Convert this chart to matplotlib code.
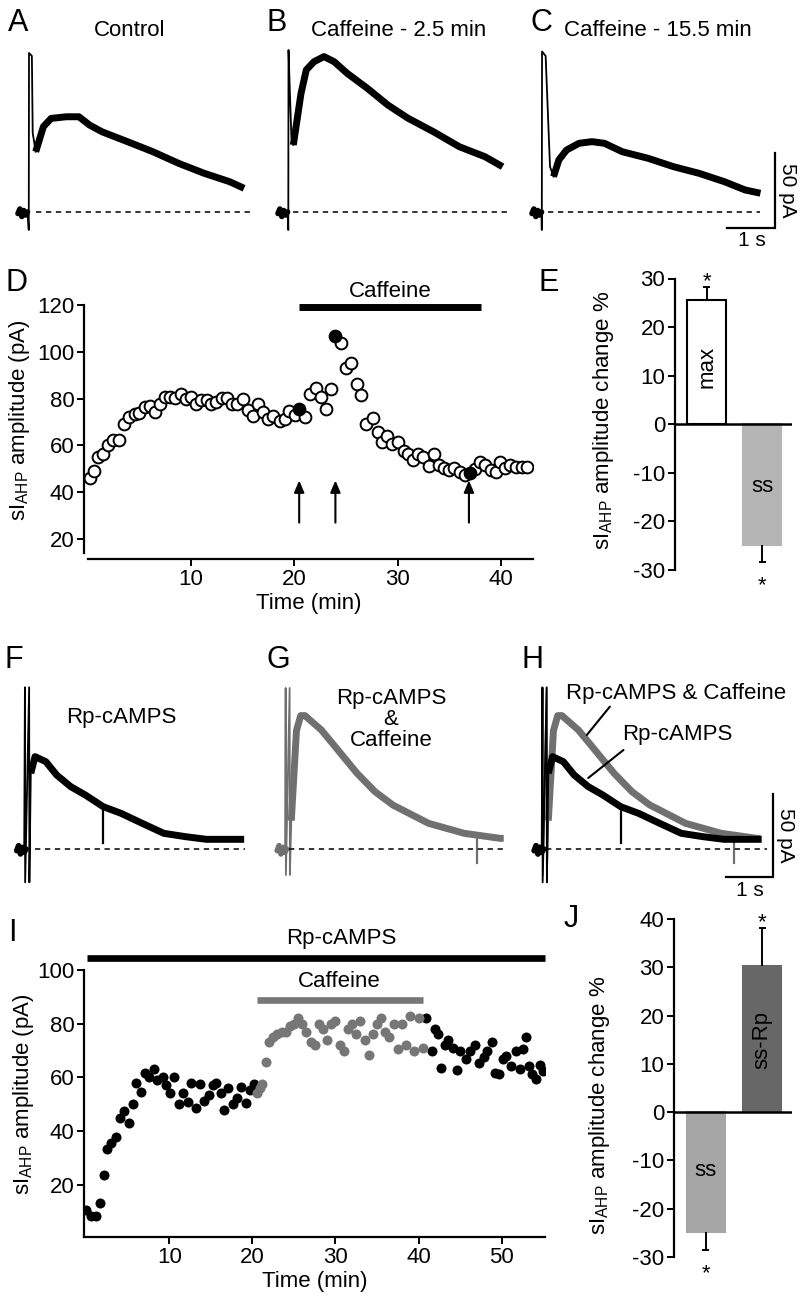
import matplotlib
matplotlib.use('Agg')
import matplotlib.pyplot as plt

plt.rcParams['font.family'] = ['Liberation Sans', 'DejaVu Sans']
plt.rcParams['mathtext.default'] = 'regular'
plt.rcParams['axes.unicode_minus'] = False

# ---------------- data ----------------
# current traces: time (s) from the spike, current (pA) above baseline
pre_t = [-0.23, -0.19, -0.15, -0.11, -0.07, -0.03]
pre_pa = [-1, 2, -3, 1, -2, 0]

A_spike_t = [-0.03, -0.005, 0.0, 0.06, 0.077, 0.14]
A_spike_pa = [0, -12, 106, 104, 52.7, 40.2]
A_t = [0.14, 0.3, 0.46, 0.78, 1.04, 1.26, 1.52, 2.05, 2.58, 3.12, 3.65, 4.18, 4.48]
A_pa = [40.2, 56.9, 62.4, 63.5, 63.5, 58, 53.5, 46.9, 40.2, 32.4, 25.8, 20.2, 15.8]

B_spike_t = [-0.03, -0.015, -0.01, 0.02, 0.05, 0.09]
B_spike_pa = [0, -12, 108, 78, 50, 44.7]
B_t = [0.09, 0.25, 0.36, 0.52, 0.73, 0.94, 1.21, 1.63, 2.06, 2.48, 3.01, 3.55, 4.08, 4.45]
B_pa = [44.7, 79, 94.7, 100.2, 103.6, 100.2, 92.5, 82.5, 71.3, 62.5, 53.5, 43.5, 36.9, 30.2]

C_spike_t = [-0.03, -0.025, -0.02, 0.055, 0.146, 0.22]
C_spike_pa = [0, -12, 107, 104, 30.2, 23.6]
C_t = [0.22, 0.33, 0.49, 0.75, 1.02, 1.28, 1.65, 2.19, 2.72, 3.25, 3.78, 4.21, 4.53]
C_pa = [23.6, 34.7, 41.3, 45.8, 46.9, 45.8, 40.2, 35.8, 30.2, 25.8, 20.2, 14.7, 12.5]

# Rp-cAMPS (black) and Rp-cAMPS & Caffeine (gray)
F_spike_t = [-0.07, -0.055, -0.05, 0.035, 0.04, 0.07]
F_spike_pa = [0, 97, -20, 97, -20, 45.4]
F_t = [0.07, 0.16, 0.39, 0.62, 0.92, 1.23, 1.61, 1.99, 2.44, 2.9, 3.36, 3.81, 4.27, 4.61]
F_pa = [45.4, 55.4, 52.4, 44.4, 37.4, 32.4, 25.4, 21.4, 15.4, 9.4, 7.4, 5.8, 5.8, 5.8]
F_art_t = [1.61, 1.61]
F_art_pa = [25.4, 3.4]

G_spike_t = [-0.06, -0.05, -0.045, 0.035, 0.04, 0.07]
G_spike_pa = [0, 96.6, -15.6, 96.6, -15.6, 17]
G_t = [0.07, 0.18, 0.27, 0.36, 0.71, 1.09, 1.47, 1.85, 2.23, 2.99, 3.75, 4.51, 4.59]
G_pa = [17, 71, 80, 80, 71.4, 58.4, 45.4, 34.4, 26.4, 15.4, 9.4, 6.4, 6.4]
G_art_t = [4.02, 4.02]
G_art_pa = [8.5, -8.6]

# panel D: sIAHP amplitude (pA) vs time (min)
D_time = [0.3, 0.7, 1.09, 1.51, 2.06, 2.55, 3.12, 3.58, 4.09, 4.64, 5.06, 5.6, 6.09,
          6.57, 7.05, 7.54, 8.02, 8.5, 9.05, 9.57, 10.0, 10.5, 11.0, 11.6, 12.0, 12.5,
          13.0, 13.5, 14.0, 14.5, 15.1, 15.6, 16.0, 16.55, 17.0, 17.5, 18.0, 18.6, 19.1,
          19.55, 20.1, 21.1, 21.5, 22.1, 22.6, 23.1, 23.6, 24.5, 25.0, 25.5, 26.05,
          26.5, 27.0, 27.6, 28.1, 28.5, 29.0, 29.5, 30.0, 30.6, 31.0, 31.5, 32.0, 32.5,
          33.0, 33.5, 34.0, 34.5, 35.0, 35.5, 36.0, 36.5, 37.5, 38.0, 38.5, 39.0, 39.5,
          39.9, 40.4, 40.9, 41.4, 42.0, 42.5]
D_amp = [46, 49, 54.9, 56.2, 60.2, 62.3, 62.3, 69.1, 72.0, 73.4, 74.0, 76.5, 76.8,
         74.4, 77.7, 80.5, 80.5, 80.1, 82.0, 79.8, 80.8, 77.7, 79.4, 79.4, 77.6, 78.7,
         80.1, 80.1, 77.6, 77.6, 79.7, 75.1, 72.7, 77.6, 74.4, 71.2, 72.6, 70.4, 71.2,
         74.7, 73.0, 72.0, 82.0, 84.4, 80.8, 75.4, 84.0, 103.6, 93.2, 95.1, 86.1,
         81.5, 69.1, 71.6, 65.9, 61.6, 64.0, 60.6, 61.6, 57.7, 56.2, 53.8, 56.3, 55.2,
         51.0, 56.3, 51.6, 50.5, 49.5, 50.5, 48.5, 47.5, 50.0, 53.0, 51.6, 49.5, 48.5,
         53.0, 50.5, 51.6, 50.8, 50.8, 50.8]
D_sel_time = [20.5, 24.0, 37.0]
D_sel_amp = [75.4, 106.8, 48.0]
D_arrows = [20.5, 24.0, 36.9]
D_caffeine = (20.5, 38.1)

# panel I
I_black_t = [0.0, 0.55, 1.1, 1.63, 2.14, 2.5, 3.0, 3.56, 4.0, 4.55, 5.07, 5.6, 6.0, 6.6,
             7.0, 7.56, 8.17, 8.5, 9.16, 9.6, 10.1, 10.6, 11.1, 11.6, 12.2, 12.6, 13.2,
             13.7, 14.1, 14.7, 15.2, 15.6, 16.2, 16.6, 17.1, 17.6, 18.1, 18.6, 19.2,
             19.7, 20.2, 40.9, 41.6, 42.0, 42.4, 42.7, 43.2, 43.6, 44.1, 44.6, 45.0,
             45.7, 46.2, 46.8, 47.3, 47.9, 48.3, 48.8, 49.2, 49.7, 50.2, 50.6, 51.2,
             51.7, 52.2, 52.6, 53.0, 53.3, 53.7, 54.1, 54.6, 55.0]
I_black_v = [10.7, 8.5, 8.5, 13.4, 23.7, 33.3, 35.5, 37.7, 44.8, 47.5, 43.2, 50.0, 58.0,
             54.7, 61.7, 60.3, 63.0, 59.0, 60.3, 57.2, 54.1, 60.3, 50.1, 54.1, 51.0, 58.0,
             48.5, 57.5, 51.3, 53.5, 57.2, 58.0, 54.1, 47.9, 55.9, 50.3, 52.2, 56.3, 50.4,
             55.5, 57.5, 82, 70, 78, 76, 63.6, 72, 74, 71, 62.7, 70,
             67, 70, 72, 65.5, 67.6, 70, 73, 61.8, 61.3, 66.7, 68, 64.3,
             70, 63.3, 70.5, 75, 64.3, 61.3, 59.4, 64.8, 62.3]
I_gray_t = [20.55, 20.9, 21.2, 21.6, 22.0, 22.5, 23.0, 23.5, 24.0, 24.5, 25.0, 25.5,
            26.0, 26.5, 27.0, 27.5, 28.0, 28.5, 29.0, 29.5, 30.0, 30.5, 31.0, 31.5,
            32.0, 32.5, 33.0, 33.5, 34.0, 34.5, 35.0, 35.5, 36.0, 36.5, 37.0, 37.5,
            38.0, 38.5, 39.0, 39.5, 40.0, 40.5]
I_gray_v = [54.3, 56, 57.4, 65.8, 73, 75, 76, 77, 77, 79, 80, 82,
            80, 77, 73, 72, 80, 78, 74, 80, 81, 72, 70, 78,
            80, 76, 81, 74, 68.4, 76, 80, 82, 77, 75, 80, 70.5,
            80, 72, 83, 70, 82, 71]
I_rp = (0.1, 55.3)
I_caffeine = (20.5, 40.6)

# bar panels (% change)
E_labels = ['max', 'ss']
E_values = [25.6, -24.8]
E_errors = [2.7, 3.6]
J_labels = ['ss', 'ss-Rp']
J_values = [-24.8, 30.2]
J_errors = [3.7, 8.0]

# ---------------- layout helpers ----------------
W, H = 800, 1308
fig = plt.figure(figsize=(8, 13.08), dpi=100)


def axes_px(l, t, r, b):
    return fig.add_axes([l / W, 1 - b / H, (r - l) / W, (b - t) / H])


def ftext(x, y, s, **kw):
    fig.text(x / W, 1 - y / H, s, **kw)


def trace_axes(l, r, t, b, spike, base, px_s, px_pa):
    ax = axes_px(l, t, r, b)
    ax.set_xlim((l - spike) / px_s, (r - spike) / px_s)
    ax.set_ylim((base - b) / px_pa, (base - t) / px_pa)
    ax.axis('off')
    return ax


def draw_trace(ax, st, sp, t, pa, color, thick=5.0):
    ax.plot(pre_t, pre_pa, color=color, lw=thick * 0.8, solid_capstyle='round')
    ax.plot(st, sp, color=color, lw=1.3)
    ax.plot(t, pa, color=color, lw=thick, solid_capstyle='butt',
            solid_joinstyle='round')


def baseline(ax, t0, t1):
    ax.hlines(0, t0, t1, colors='k', linestyles=(0, (3.5, 3)), lw=1.1)


def scale_bar(ax, x0, y0):
    ax.plot([x0 - 1, x0, x0], [y0, y0, y0 + 50], color='k', lw=1.6,
            clip_on=False, solid_joinstyle='miter')


GRAY_T = '#707070'
lab = dict(fontsize=16)
big = dict(fontsize=22)
ylab = r'sI$_{AHP}$'

# ---------------- A, B, C ----------------
axA = trace_axes(5, 255, 40, 240, 29, 212, 48, 1.5)
draw_trace(axA, A_spike_t, A_spike_pa, A_t, A_pa, 'k')
baseline(axA, 0.14, 4.6)
axB = trace_axes(265, 515, 40, 240, 289, 212, 48, 1.5)
draw_trace(axB, B_spike_t, B_spike_pa, B_t, B_pa, 'k')
baseline(axB, 0.08, 4.58)
axC = trace_axes(525, 795, 40, 240, 543, 212, 48, 1.5)
draw_trace(axC, C_spike_t, C_spike_pa, C_t, C_pa, 'k')
baseline(axC, 0.1, 4.52)
scale_bar(axC, 4.83, -10.7)
axC.text(5.1, 14.7, '50 pA', rotation=270, ha='center', va='center', fontsize=15)
axC.text(4.35, -18.7, '1 s', ha='center', va='center', fontsize=15)

ftext(18, 23, 'A', ha='center', va='center', **big)
ftext(277, 23, 'B', ha='center', va='center', **big)
ftext(541, 23, 'C', ha='center', va='center', **big)
ftext(130, 30, 'Control', ha='center', va='center', **lab)
ftext(399, 30, 'Caffeine - 2.5 min', ha='center', va='center', **lab)
ftext(658, 30, 'Caffeine - 15.5 min', ha='center', va='center', **lab)

# ---------------- D ----------------
axD = axes_px(84, 282, 533, 559)
axD.set_xlim(-0.29, 43.09)
axD.set_ylim(11.45, 129.8)
axD.scatter(D_time, D_amp, s=72, facecolor='white', edgecolor='k', lw=1.4, zorder=3)
axD.scatter(D_sel_time, D_sel_amp, s=72, facecolor='k', edgecolor='k', lw=1.4, zorder=4)
for t in D_arrows:
    axD.annotate('', xy=(t, 45), xytext=(t, 27),
                 arrowprops=dict(arrowstyle='-|>,head_width=0.3,head_length=0.7',
                                 color='k', lw=1.5, shrinkA=0, shrinkB=0))
axD.plot(D_caffeine, [119, 119], color='k', lw=5, solid_capstyle='butt', clip_on=False)
axD.text(sum(D_caffeine) / 2, 125.6, 'Caffeine', ha='center', va='center', **lab)
axD.set_yticks([20, 40, 60, 80, 100, 120])
axD.set_xticks([10, 20, 30, 40])
axD.spines['left'].set_bounds(14, 120)
axD.spines['bottom'].set_bounds(0.1, 43.09)
axD.set_xlabel('Time (min)', fontsize=16, labelpad=2)

# ---------------- E ----------------
def bar_panel(ax, labels, values, errors, colors, edges, rot, lblpos):
    xs = [0.81, 2.24]
    ax.set_xlim(0, 3)
    ax.bar(xs, values, width=0.98, color=colors, edgecolor=edges, lw=1.5, zorder=2)
    ax.axhline(0, color='k', lw=1.8, zorder=3)
    for x, v, e, l, r, lp in zip(xs, values, errors, labels, rot, lblpos):
        sgn = 1 if v > 0 else -1
        end = v + sgn * e
        ax.vlines(x, v, end, color='k', lw=1.4)
        ax.hlines(end, x - 0.09, x + 0.09, color='k', lw=1.4)
        ax.annotate('*', xy=(x, end), xytext=(0, 0 if sgn > 0 else -21),
                    textcoords='offset points', ha='center', va='baseline',
                    fontsize=16, annotation_clip=False)
        ax.text(x, lp, l, rotation=r, ha='center', va='center', fontsize=16, zorder=4)
    ax.set_xticks([])
    ax.spines['bottom'].set_visible(False)


axE = axes_px(675, 278.5, 792, 570)
axE.set_ylim(-30, 30)
bar_panel(axE, E_labels, E_values, E_errors, ['white', '#b4b4b4'], ['k', '#b4b4b4'],
          [90, 0], [11.8, -12.8])
axE.set_yticks(range(-30, 31, 10))

# ---------------- F, G, H ----------------
axF = trace_axes(5, 255, 675, 890, 27.5, 849, 47, 1.667)
draw_trace(axF, F_spike_t, F_spike_pa, F_t, F_pa, 'k')
axF.plot(F_art_t, F_art_pa, color='k', lw=1.6)
baseline(axF, 0.15, 4.62)
axF.text(2.0, 78.6, 'Rp-cAMPS', ha='center', va='center', **lab)

axG = trace_axes(265, 515, 675, 890, 288, 849, 47, 1.667)
draw_trace(axG, G_spike_t, G_spike_pa, G_t, G_pa, GRAY_T)
axG.plot(G_art_t, G_art_pa, color=GRAY_T, lw=1.6)
baseline(axG, 0.02, 4.6)
axG.text(2.19, 77.4, 'Rp-cAMPS\n&\nCaffeine', ha='center', va='center',
         linespacing=1.0, **lab)

axH = trace_axes(525, 795, 675, 890, 545, 849, 47, 1.667)
draw_trace(axH, G_spike_t, G_spike_pa, G_t, G_pa, GRAY_T)
axH.plot(G_art_t, G_art_pa, color=GRAY_T, lw=1.6)
draw_trace(axH, F_spike_t, F_spike_pa, F_t, F_pa, 'k')
axH.plot(F_art_t, F_art_pa, color='k', lw=1.6)
baseline(axH, 0.02, 4.72)
scale_bar(axH, 4.85, -16.8)
axH.text(5.11, 8.4, '50 pA', rotation=270, ha='center', va='center', fontsize=15)
axH.text(4.35, -24.6, '1 s', ha='center', va='center', fontsize=15)
axH.text(2.79, 93.4, 'Rp-cAMPS & Caffeine', ha='center', va='center', **lab)
axH.text(2.81, 68.4, 'Rp-cAMPS', ha='center', va='center', **lab)
axH.annotate('', xy=(0.89, 68.4), xytext=(1.38, 85.4),
             arrowprops=dict(arrowstyle='-', lw=1.5, shrinkA=0, shrinkB=0))
axH.annotate('', xy=(0.92, 42.6), xytext=(1.67, 59.4),
             arrowprops=dict(arrowstyle='-', lw=1.5, shrinkA=0, shrinkB=0))

ftext(14, 660, 'F', ha='center', va='center', **big)
ftext(278, 660, 'G', ha='center', va='center', **big)
ftext(532, 660, 'H', ha='center', va='center', **big)

# ---------------- I ----------------
axI = axes_px(84, 940, 545, 1237)
axI.set_xlim(-0.3, 55.24)
axI.set_ylim(0.67, 111.1)
axI.scatter(I_black_t, I_black_v, s=52, color='k', lw=0, zorder=3)
axI.scatter(I_gray_t, I_gray_v, s=52, color='#767676', lw=0, zorder=3)
axI.plot(I_rp, [104.3, 104.3], color='k', lw=4.8, solid_capstyle='butt', clip_on=False)
axI.plot(I_caffeine, [88.8, 88.8], color='#777777', lw=4.8, solid_capstyle='butt',
         clip_on=False)
axI.text(30.7, 111.7, 'Rp-cAMPS', ha='center', va='center', **lab)
axI.text(30.5, 95.6, 'Caffeine', ha='center', va='center', **lab)
axI.set_yticks([20, 40, 60, 80, 100])
axI.set_xticks([10, 20, 30, 40, 50])
axI.spines['left'].set_bounds(0.67, 100)
axI.set_xlabel('Time (min)', fontsize=16, labelpad=2)

# ---------------- J ----------------
axJ = axes_px(674, 919, 792, 1257)
axJ.set_ylim(-30, 40)
bar_panel(axJ, J_labels, J_values, J_errors, ['#a6a6a6', '#676767'],
          ['#a6a6a6', '#676767'], [0, 90], [-12, 15])
axJ.set_yticks(range(-30, 41, 10))

for ax in (axD, axE, axI, axJ):
    for s in ('top', 'right'):
        ax.spines[s].set_visible(False)
    for s in ('left', 'bottom'):
        ax.spines[s].set_linewidth(1.6)
    ax.tick_params(direction='out', length=5, width=1.4, labelsize=16, pad=2)

ftext(20, 420, ylab + ' amplitude (pA)', rotation=90, ha='center', va='center', **lab)
ftext(24, 1094, ylab + ' amplitude (pA)', rotation=90, ha='center', va='center', **lab)
ftext(603, 420, ylab + ' amplitude change %', rotation=90, ha='center', va='center', **lab)
ftext(600, 1105, ylab + ' amplitude change %', rotation=90, ha='center', va='center', **lab)

ftext(16, 283, 'D', ha='center', va='center', **big)
ftext(549, 283, 'E', ha='center', va='center', **big)
ftext(12, 933, 'I', ha='center', va='center', **big)
ftext(571, 919, 'J', ha='center', va='center', **big)

fig.savefig('out.png', dpi=100)
